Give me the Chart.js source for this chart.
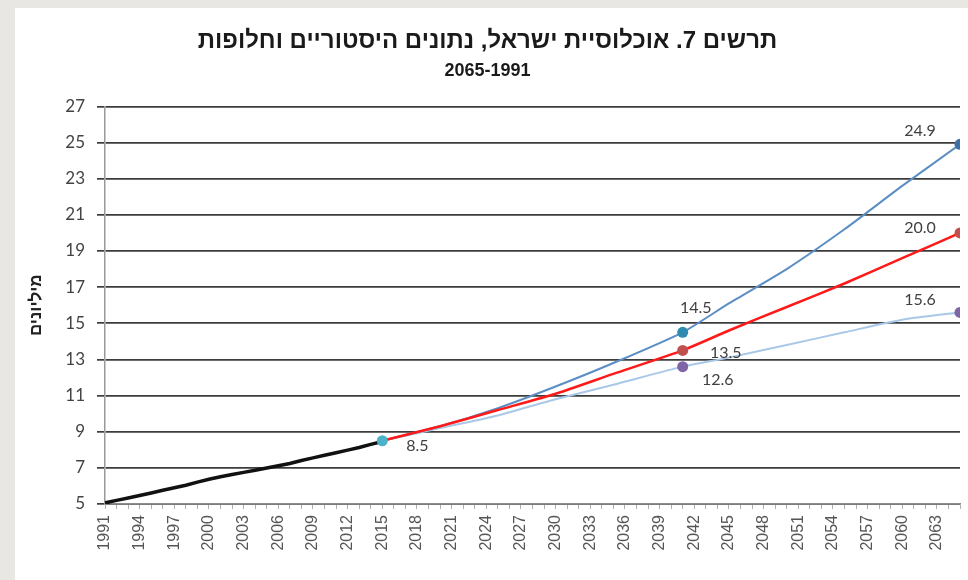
<!DOCTYPE html>
<html lang="he">
<head>
<meta charset="utf-8">
<script src="https://cdn.jsdelivr.net/npm/chart.js@4.4.1/dist/chart.umd.min.js"></script>
<style>
    html, body { margin: 0; padding: 0; background: #e9e7e3; }
    #wrap { position: absolute; left: 15px; top: 8px; width: 953px; height: 572px; background: #fff; }
</style>
</head>
<body>
<div id="wrap"><canvas id="chart" width="953" height="572"></canvas></div>
<script>
// historical population, millions
const histYears = [1991, 1992, 1993, 1994, 1995, 1996, 1997, 1998, 1999, 2000, 2001, 2002, 2003,
    2004, 2005, 2006, 2007, 2008, 2009, 2010, 2011, 2012, 2013, 2014, 2015];
const histValues = [5.06, 5.20, 5.33, 5.47, 5.61, 5.76, 5.90, 6.04, 6.21, 6.37, 6.51, 6.63, 6.75,
    6.87, 6.99, 7.12, 7.24, 7.41, 7.55, 7.70, 7.84, 7.98, 8.13, 8.30, 8.46];

// projections (alternatives)
const projYears = [2015, 2020, 2025, 2030, 2035, 2041, 2045, 2050, 2055, 2060, 2065];
const highValues = [8.5, 9.3, 10.3, 11.5, 12.8, 14.5, 16.1, 18.0, 20.2, 22.6, 24.9];
const mediumValues = [8.5, 9.3, 10.2, 11.1, 12.2, 13.5, 14.6, 15.9, 17.2, 18.6, 20.0];
const lowValues = [8.5, 9.2, 9.9, 10.8, 11.6, 12.6, 13.1, 13.8, 14.5, 15.2, 15.6];

const startYear = [2015];
const startValue = [8.5];
const markedYears = [2041, 2065];

const yTicks = [5, 7, 9, 11, 13, 15, 17, 19, 21, 23, 25, 27];

const toPoints = (xs, ys) => xs.map((x, i) => ({ x, y: ys[i] }));
const markRadius = (ctx) => markedYears.includes(ctx.raw && ctx.raw.x) ? 5.5 : 0;

const FONT = "'Liberation Sans', Arial, sans-serif";
const LABEL_FONT = "Lato, 'Open Sans', sans-serif";

// value labels next to points: [datasetIndex, year, dx, dy]
const valueLabels = [
    [0, 2015, 35, 5],
    [1, 2041, 13, -24],
    [2, 2041, 43, 2],
    [3, 2041, 35, 13],
    [1, 2065, -40, -14],
    [2, 2065, -40, -5],
    [3, 2065, -40, -13]
];

const valueLabelPlugin = {
    id: "valueLabels",
    afterDatasetsDraw(chart) {
        const { ctx } = chart;
        const xs = chart.scales.x;
        const ys = chart.scales.y;
        ctx.save();
        ctx.font = "16px " + LABEL_FONT;
        ctx.fillStyle = "#404040";
        ctx.textAlign = "center";
        ctx.textBaseline = "middle";
        valueLabels.forEach(([di, year, dx, dy]) => {
            const pt = chart.data.datasets[di].data.find((p) => p.x === year);
            if (!pt) return;
            ctx.fillText(pt.y.toFixed(1), xs.getPixelForValue(pt.x) + dx, ys.getPixelForValue(pt.y) + dy);
        });
        ctx.restore();
    }
};

new Chart(document.getElementById("chart"), {
    type: "line",
    data: {
        datasets: [
            {
                label: "2015",
                data: toPoints(startYear, startValue),
                showLine: false,
                pointRadius: 5.5,
                pointBackgroundColor: "#4bb3c8",
                pointBorderWidth: 0,
                order: 0
            },
            {
                label: "גבוהה",
                data: toPoints(projYears, highValues),
                borderColor: "#5b8ec4",
                borderWidth: 2,
                pointRadius: markRadius,
                pointBackgroundColor: (c) => c.raw && c.raw.x === 2041 ? "#2f8bb0" : "#3f6fa8",
                pointBorderWidth: 0,
                tension: 0.2,
                order: 3
            },
            {
                label: "בינונית",
                data: toPoints(projYears, mediumValues),
                borderColor: "#ff1a1a",
                borderWidth: 2.5,
                pointRadius: markRadius,
                pointBackgroundColor: "#c0504d",
                pointBorderWidth: 0,
                tension: 0.2,
                order: 2
            },
            {
                label: "נמוכה",
                data: toPoints(projYears, lowValues),
                borderColor: "#a9c8e8",
                borderWidth: 2,
                pointRadius: markRadius,
                pointBackgroundColor: "#7f65a6",
                pointBorderWidth: 0,
                tension: 0.2,
                order: 4
            },
            {
                label: "נתונים היסטוריים",
                data: toPoints(histYears, histValues),
                borderColor: "#111",
                borderWidth: 3.5,
                pointRadius: 0,
                order: 1
            }
        ]
    },
    options: {
        responsive: false,
        animation: false,
        layout: { padding: { top: 9, right: 8, left: 0, bottom: 4 } },
        plugins: {
            legend: { display: false },
            tooltip: { enabled: false },
            title: {
                display: true,
                text: "תרשים 7. אוכלוסיית ישראל, נתונים היסטוריים וחלופות",
                color: "#1a1a1a",
                font: { family: FONT, size: 24, weight: "bold" },
                padding: { top: 10, bottom: 4 }
            },
            subtitle: {
                display: true,
                text: "2065-1991",
                color: "#1a1a1a",
                font: { family: FONT, size: 18, weight: "bold" },
                padding: { top: 0, bottom: 25 }
            }
        },
        scales: {
            x: {
                type: "linear",
                min: 1991,
                max: 2065,
                afterFit: (s) => {
                    s.height = 72;
                    s.paddingRight = 0;
                    s.paddingLeft = 0;
                },
                afterBuildTicks: (s) => {
                    const t = [];
                    for (let y = 1991; y <= 2065; y++) t.push({ value: y });
                    s.ticks = t;
                },
                ticks: {
                    autoSkip: false,
                    maxRotation: 90,
                    minRotation: 90,
                    color: "#555",
                    padding: 6,
                    font: { family: FONT, size: 16 },
                    callback: (v) => (v - 1991) % 3 === 0 ? String(v) : ""
                },
                grid: {
                    drawOnChartArea: false,
                    tickLength: 5,
                    color: "#b0b0b0"
                },
                border: { color: "#8c8c8c", width: 1.5 }
            },
            y: {
                min: 5,
                max: 27,
                afterFit: (s) => { s.width = 90; },
                afterBuildTicks: (s) => { s.ticks = yTicks.map((v) => ({ value: v })); },
                ticks: {
                    color: "#444",
                    padding: 12,
                    font: { family: LABEL_FONT, size: 17 }
                },
                grid: {
                    color: "#3c3c3c",
                    lineWidth: 1.7,
                    tickLength: 8
                },
                border: { color: "#9a9a9a", width: 1.5 },
                title: {
                    display: true,
                    text: "מיליונים",
                    color: "#222",
                    font: { family: FONT, size: 17, weight: "bold" },
                    padding: { top: 11, bottom: 0 }
                }
            }
        }
    },
    plugins: [valueLabelPlugin]
});
</script>
</body>
</html>
